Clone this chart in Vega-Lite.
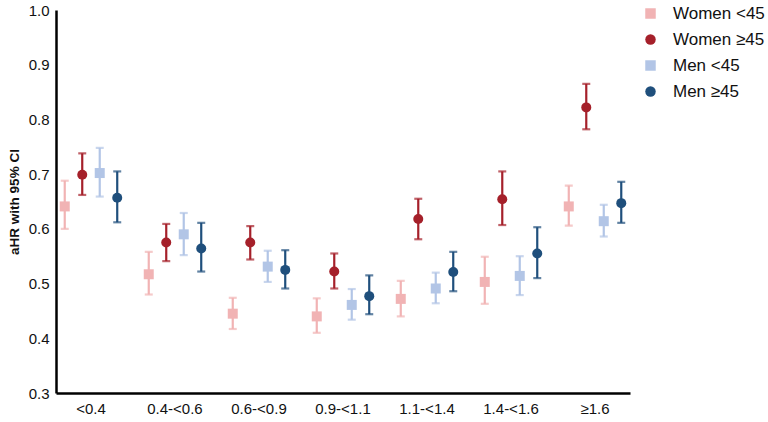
{
  "$schema": "https://vega.github.io/schema/vega-lite/v6.json",
  "width": 574,
  "height": 383,
  "autosize": {"type": "none"},
  "padding": {"left": 56, "top": 10, "right": 138, "bottom": 29},
  "background": "white",
  "config": {
    "font": "Liberation Sans",
    "view": {"stroke": null},
    "axis": {"labelFont": "Liberation Sans", "titleFont": "Liberation Sans", "labelColor": "#111", "titleColor": "#111"},
    "legend": {"labelFont": "Liberation Sans", "orient": "none", "legendX": 586, "legendY": -5, "labelFontSize": 17, "symbolSize": 110, "rowPadding": 8, "labelOffset": 14, "symbolStrokeWidth": 0, "symbolOpacity": 1, "labelColor": "#111"}
  },
  "data": {
    "values": [
      {"cat": "<0.4", "series": "Women <45", "est": 0.641, "lo": 0.600, "hi": 0.688},
      {"cat": "<0.4", "series": "Women ≥45", "est": 0.699, "lo": 0.662, "hi": 0.738},
      {"cat": "<0.4", "series": "Men <45", "est": 0.702, "lo": 0.659, "hi": 0.748},
      {"cat": "<0.4", "series": "Men ≥45", "est": 0.657, "lo": 0.612, "hi": 0.705},
      {"cat": "0.4-<0.6", "series": "Women <45", "est": 0.517, "lo": 0.480, "hi": 0.558},
      {"cat": "0.4-<0.6", "series": "Women ≥45", "est": 0.575, "lo": 0.541, "hi": 0.609},
      {"cat": "0.4-<0.6", "series": "Men <45", "est": 0.590, "lo": 0.552, "hi": 0.629},
      {"cat": "0.4-<0.6", "series": "Men ≥45", "est": 0.564, "lo": 0.522, "hi": 0.611},
      {"cat": "0.6-<0.9", "series": "Women <45", "est": 0.445, "lo": 0.417, "hi": 0.474},
      {"cat": "0.6-<0.9", "series": "Women ≥45", "est": 0.575, "lo": 0.544, "hi": 0.605},
      {"cat": "0.6-<0.9", "series": "Men <45", "est": 0.531, "lo": 0.503, "hi": 0.560},
      {"cat": "0.6-<0.9", "series": "Men ≥45", "est": 0.525, "lo": 0.491, "hi": 0.561},
      {"cat": "0.9-<1.1", "series": "Women <45", "est": 0.440, "lo": 0.410, "hi": 0.473},
      {"cat": "0.9-<1.1", "series": "Women ≥45", "est": 0.522, "lo": 0.491, "hi": 0.555},
      {"cat": "0.9-<1.1", "series": "Men <45", "est": 0.461, "lo": 0.434, "hi": 0.490},
      {"cat": "0.9-<1.1", "series": "Men ≥45", "est": 0.477, "lo": 0.444, "hi": 0.515},
      {"cat": "1.1-<1.4", "series": "Women <45", "est": 0.472, "lo": 0.440, "hi": 0.505},
      {"cat": "1.1-<1.4", "series": "Women ≥45", "est": 0.618, "lo": 0.581, "hi": 0.655},
      {"cat": "1.1-<1.4", "series": "Men <45", "est": 0.491, "lo": 0.464, "hi": 0.520},
      {"cat": "1.1-<1.4", "series": "Men ≥45", "est": 0.521, "lo": 0.486, "hi": 0.558},
      {"cat": "1.4-<1.6", "series": "Women <45", "est": 0.503, "lo": 0.463, "hi": 0.549},
      {"cat": "1.4-<1.6", "series": "Women ≥45", "est": 0.654, "lo": 0.607, "hi": 0.705},
      {"cat": "1.4-<1.6", "series": "Men <45", "est": 0.514, "lo": 0.479, "hi": 0.550},
      {"cat": "1.4-<1.6", "series": "Men ≥45", "est": 0.555, "lo": 0.510, "hi": 0.603},
      {"cat": "≥1.6", "series": "Women <45", "est": 0.641, "lo": 0.606, "hi": 0.679},
      {"cat": "≥1.6", "series": "Women ≥45", "est": 0.822, "lo": 0.782, "hi": 0.865},
      {"cat": "≥1.6", "series": "Men <45", "est": 0.614, "lo": 0.586, "hi": 0.644},
      {"cat": "≥1.6", "series": "Men ≥45", "est": 0.647, "lo": 0.611, "hi": 0.686}
    ]
  },
  "encoding": {
    "x": {
      "field": "cat", "type": "nominal", "sort": null,
      "scale": {"type": "band", "paddingInner": 0.167, "paddingOuter": 0},
      "axis": {"title": null, "labelAngle": 0, "labelFontSize": 15, "labelPadding": 8, "ticks": false, "domainColor": "#000", "domainWidth": 2.5, "grid": false}
    },
    "xOffset": {
      "field": "series", "type": "nominal", "sort": ["Women <45", "Women ≥45", "Men <45", "Men ≥45"],
      "scale": {"paddingInner": 0, "paddingOuter": 0}
    },
    "color": {
      "field": "series", "type": "nominal", "sort": ["Women <45", "Women ≥45", "Men <45", "Men ≥45"],
      "scale": {"domain": ["Women <45", "Women ≥45", "Men <45", "Men ≥45"], "range": ["#f1b3b4", "#a5202a", "#b2c5e6", "#1f4f7c"]},
      "legend": {"title": null}
    }
  },
  "layer": [
    {
      "mark": {"type": "rule", "strokeWidth": 2.2},
      "encoding": {
        "y": {"field": "lo", "type": "quantitative", "scale": {"domain": [0.3, 1.0], "nice": false, "zero": false},
          "axis": {"title": "aHR with 95% CI", "titleFontSize": 13.5, "titleFontWeight": "bold", "titlePadding": 7, "values": [0.3, 0.4, 0.5, 0.6, 0.7, 0.8, 0.9, 1.0], "format": ".1f", "labelFontSize": 15, "labelPadding": 7, "ticks": false, "grid": false, "domainColor": "#000", "domainWidth": 2.5}},
        "y2": {"field": "hi"}
      }
    },
    {
      "mark": {"type": "tick", "thickness": 2.2, "size": 8},
      "encoding": {"y": {"field": "lo", "type": "quantitative"}}
    },
    {
      "mark": {"type": "tick", "thickness": 2.2, "size": 8},
      "encoding": {"y": {"field": "hi", "type": "quantitative"}}
    },
    {
      "mark": {"type": "point", "filled": true, "opacity": 1, "size": 100},
      "encoding": {
        "y": {"field": "est", "type": "quantitative"},
        "shape": {
          "field": "series", "type": "nominal", "sort": ["Women <45", "Women ≥45", "Men <45", "Men ≥45"],
          "scale": {"domain": ["Women <45", "Women ≥45", "Men <45", "Men ≥45"], "range": ["square", "circle", "square", "circle"]},
          "legend": {"title": null}
        }
      }
    }
  ]
}
